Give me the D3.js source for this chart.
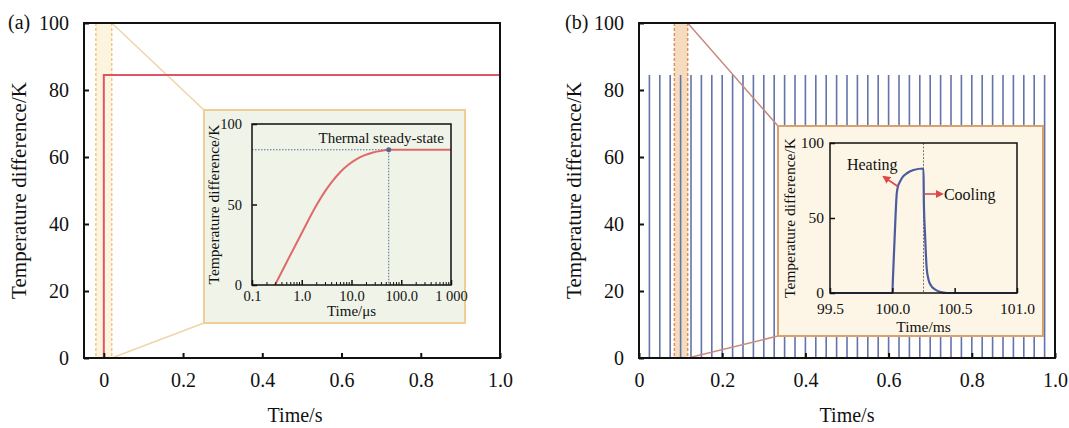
<!DOCTYPE html>
<html lang="en">
<head>
  <meta charset="UTF-8">
  <style>
    body { margin: 0; background: #fff; }
    svg text { font-family: "Liberation Serif", "Times New Roman", serif; fill: #111; }
  </style>
</head>
<body>
  <svg class="chart"></svg>
  <script src="https://cdnjs.cloudflare.com/ajax/libs/d3/7.8.5/d3.min.js"></script>
  <script>
    // ---- data ----
    // (a) single 1 s heating step
    const timeA = [0, 0, 1.0]
    const tempA = [0, 84.5, 84.5]
    const bandA = [-0.02, 0.02]
    // (a) inset, log time in microseconds
    const insetTimeA = [0.29, 0.5, 1, 2, 3, 4, 5.9, 8.5, 12.7, 18, 27, 40, 56, 100, 1000]
    const insetTempA = [0, 14.3, 32.3, 49.8, 58.6, 63.9, 70, 74.5, 78.2, 80.5, 82.3, 83.4, 84, 84, 84]
    const steadyPoint = [56, 84]
    const logTicks = [0.1, 1, 10, 100, 1000]
    const logTickLabels = ['0.1', '1.0', '10.0', '100.0', '1 000']

    // (b) pulse train, one pulse every 25 ms
    const pulseTimes = [0.025, 0.05, 0.075, 0.1, 0.125, 0.15, 0.175, 0.2, 0.225, 0.25,
      0.275, 0.3, 0.325, 0.35, 0.375, 0.4, 0.425, 0.45, 0.475, 0.5,
      0.525, 0.55, 0.575, 0.6, 0.625, 0.65, 0.675, 0.7, 0.725, 0.75,
      0.775, 0.8, 0.825, 0.85, 0.875, 0.9, 0.925, 0.95, 0.975]
    const pulsePeak = 84.5
    const bandB = [0.085, 0.117]
    // (b) inset, time in milliseconds
    const insetTimeB = [99.5, 100.0, 100.005, 100.02, 100.035, 100.045, 100.06, 100.08, 100.12, 100.17, 100.25,
      100.253, 100.262, 100.275, 100.29, 100.31, 100.34, 100.38, 100.44, 101.0]
    const insetTempB = [0, 0, 10, 40, 66, 71, 74, 77, 80, 82, 83,
      60, 40, 17, 9, 5, 2.5, 0.8, 0, 0]
    const switchTime = 100.25

    const mainXTicks = [0, 0.2, 0.4, 0.6, 0.8, 1.0]
    const mainXLabels = ['0', '0.2', '0.4', '0.6', '0.8', '1.0']
    const mainYTicks = [0, 20, 40, 60, 80, 100]
    const insetYTicks = [0, 50, 100]
    const insetXTicksB = [99.5, 100.0, 100.5, 101.0]
    const insetXLabelsB = ['99.5', '100.0', '100.5', '101.0']

    const W = 1069, H = 428
    const svg = d3.select('.chart').attr('width', W).attr('height', H)
    svg.append('rect').attr('width', W).attr('height', H).attr('fill', '#fff')

    function frame(g, x0, y0, x1, y1, w) {
      g.append('rect').attr('x', x0).attr('y', y0)
        .attr('width', x1 - x0).attr('height', y1 - y0)
        .attr('fill', 'none').attr('stroke', '#111').attr('stroke-width', w)
    }

    function axes(g, x, y, o) {
      const [x0, x1] = x.range(), [y1, y0] = y.range()
      const ax = g.append('g').attr('transform', `translate(0,${y1})`)
        .call(d3.axisBottom(x).tickValues(o.xTicks).tickFormat((d, i) => o.xLabels[i])
          .tickSize(-o.tick).tickPadding(o.xPad))
      const ay = g.append('g').attr('transform', `translate(${x0},0)`)
        .call(d3.axisLeft(y).tickValues(o.yTicks).tickSize(-o.tick).tickPadding(o.yPad))
      for (const a of [ax, ay]) {
        a.select('.domain').remove()
        a.selectAll('line').attr('stroke', '#111').attr('stroke-width', o.sw)
        a.selectAll('text').style('font-size', o.font + 'px').attr('fill', '#111')
      }
      frame(g, x0, y0, x1, y1, o.sw)
    }

    // ================= panel (a) =================
    const ga = svg.append('g')
    const xa = d3.scaleLinear().domain([-0.05, 1.0]).range([84, 500])
    const ya = d3.scaleLinear().domain([0, 100]).range([358, 23])

    const insetBoxA = { x0: 204, y0: 110, x1: 465, y1: 323 }

    ga.append('rect').attr('x', xa(bandA[0])).attr('y', ya(100))
      .attr('width', xa(bandA[1]) - xa(bandA[0])).attr('height', ya(0) - ya(100))
      .attr('fill', '#fdf4e0')
    for (const b of bandA) {
      ga.append('line').attr('x1', xa(b)).attr('x2', xa(b)).attr('y1', ya(100)).attr('y2', ya(0))
        .attr('stroke', '#f0c880').attr('stroke-width', 1.5).attr('stroke-dasharray', '3,2')
    }
    ga.append('path')
      .attr('d', d3.line()([[xa(bandA[1]), ya(100)], [insetBoxA.x0, insetBoxA.y0]]) +
        d3.line()([[xa(bandA[1]), ya(0)], [insetBoxA.x0, insetBoxA.y1]]))
      .attr('stroke', '#edd6a8').attr('stroke-width', 1.5).attr('fill', 'none')

    ga.append('path').datum(timeA.map((t, i) => [t, tempA[i]]))
      .attr('d', d3.line().x(d => xa(d[0])).y(d => ya(d[1])))
      .attr('fill', 'none').attr('stroke', '#e05565').attr('stroke-width', 2)

    axes(ga, xa, ya, { xTicks: mainXTicks, xLabels: mainXLabels, yTicks: mainYTicks,
      tick: 5, xPad: 15, yPad: 15, font: 20, sw: 2 })

    // inset (a)
    ga.append('rect').attr('x', insetBoxA.x0).attr('y', insetBoxA.y0)
      .attr('width', insetBoxA.x1 - insetBoxA.x0).attr('height', insetBoxA.y1 - insetBoxA.y0)
      .attr('fill', '#eff3e8').attr('stroke', '#f0cf94').attr('stroke-width', 2)

    const xia = d3.scaleLog().domain([0.1, 1000]).range([252, 451])
    const yia = d3.scaleLinear().domain([0, 100]).range([285, 124])

    ga.append('path')
      .attr('d', d3.line()([[xia(0.1), yia(steadyPoint[1])], [xia(steadyPoint[0]), yia(steadyPoint[1])]]) +
        d3.line()([[xia(steadyPoint[0]), yia(steadyPoint[1])], [xia(steadyPoint[0]), yia(0)]]))
      .attr('stroke', '#556f96').attr('stroke-width', 1).attr('stroke-dasharray', '1.5,1.5').attr('fill', 'none')

    ga.append('path').datum(insetTimeA.map((t, i) => [t, insetTempA[i]]))
      .attr('d', d3.line().x(d => xia(d[0])).y(d => yia(d[1])).curve(d3.curveMonotoneX))
      .attr('fill', 'none').attr('stroke', '#e06a6a').attr('stroke-width', 2)

    ga.append('circle').attr('cx', xia(steadyPoint[0])).attr('cy', yia(steadyPoint[1]))
      .attr('r', 2.5).attr('fill', '#4f6a94')

    // minor log ticks
    const minor = []
    for (const dec of [0.1, 1, 10, 100]) for (let k = 2; k < 10; k++) minor.push(dec * k)
    ga.append('g').selectAll('line').data(minor).join('line')
      .attr('x1', d => xia(d)).attr('x2', d => xia(d))
      .attr('y1', yia(0)).attr('y2', yia(0) - 3)
      .attr('stroke', '#111').attr('stroke-width', 1)

    axes(ga, xia, yia, { xTicks: logTicks, xLabels: logTickLabels, yTicks: insetYTicks,
      tick: 5, xPad: 6, yPad: 10, font: 14.5, sw: 1.5 })

    ga.append('text').attr('x', xia(720)).attr('y', yia(88))
      .attr('text-anchor', 'end').style('font-size', '15px').text('Thermal steady-state')
    ga.append('text').attr('x', (252 + 451) / 2).attr('y', 316)
      .attr('text-anchor', 'middle').style('font-size', '15px').text('Time/μs')
    ga.append('text').attr('transform', `translate(219,${(124 + 285) / 2}) rotate(-90)`)
      .attr('text-anchor', 'middle').style('font-size', '15.5px').text('Temperature difference/K')

    ga.append('text').attr('x', 8).attr('y', ya(100)).attr('dy', '0.32em')
      .style('font-size', '20px').text('(a)')
    ga.append('text').attr('transform', `translate(26,${(23 + 358) / 2}) rotate(-90)`)
      .attr('text-anchor', 'middle').style('font-size', '21px').text('Temperature difference/K')
    ga.append('text').attr('x', (84 + 500) / 2 + 3).attr('y', 422)
      .attr('text-anchor', 'middle').style('font-size', '20px').text('Time/s')

    // ================= panel (b) =================
    const gb = svg.append('g')
    const xb = d3.scaleLinear().domain([0, 1.0]).range([639, 1055])
    const yb = d3.scaleLinear().domain([0, 100]).range([358, 23])
    const insetBoxB = { x0: 778, y0: 126, x1: 1043, y1: 336 }

    gb.append('rect').attr('x', xb(bandB[0])).attr('y', yb(100))
      .attr('width', xb(bandB[1]) - xb(bandB[0])).attr('height', yb(0) - yb(100))
      .attr('fill', '#f6dcbf')

    gb.append('g').selectAll('line').data(pulseTimes).join('line')
      .attr('x1', d => xb(d)).attr('x2', d => xb(d))
      .attr('y1', yb(0)).attr('y2', yb(pulsePeak))
      .attr('stroke', '#6274aa').attr('stroke-width', 1.6)

    for (const b of bandB) {
      gb.append('line').attr('x1', xb(b)).attr('x2', xb(b)).attr('y1', yb(100)).attr('y2', yb(0))
        .attr('stroke', '#d9925e').attr('stroke-width', 1.5).attr('stroke-dasharray', '3,2')
    }
    gb.append('path')
      .attr('d', d3.line()([[xb(bandB[1]), yb(100)], [insetBoxB.x0, insetBoxB.y0]]) +
        d3.line()([[xb(bandB[1]), yb(0)], [insetBoxB.x0, insetBoxB.y1]]))
      .attr('stroke', '#c98a80').attr('stroke-width', 1.5).attr('fill', 'none')

    axes(gb, xb, yb, { xTicks: mainXTicks, xLabels: mainXLabels, yTicks: mainYTicks,
      tick: 5, xPad: 15, yPad: 15, font: 20, sw: 2 })

    // inset (b)
    gb.append('rect').attr('x', insetBoxB.x0).attr('y', insetBoxB.y0)
      .attr('width', insetBoxB.x1 - insetBoxB.x0).attr('height', insetBoxB.y1 - insetBoxB.y0)
      .attr('fill', '#fdf6e6').attr('stroke', '#d9a26c').attr('stroke-width', 2)

    const xib = d3.scaleLinear().domain([99.5, 101.0]).range([830, 1017])
    const yib = d3.scaleLinear().domain([0, 100]).range([293, 143])

    gb.append('line').attr('x1', xib(switchTime)).attr('x2', xib(switchTime))
      .attr('y1', yib(100)).attr('y2', yib(0))
      .attr('stroke', '#777').attr('stroke-width', 1).attr('stroke-dasharray', '2,1.5')

    gb.append('path').datum(insetTimeB.map((t, i) => [t, insetTempB[i]]))
      .attr('d', d3.line().x(d => xib(d[0])).y(d => yib(d[1])).curve(d3.curveMonotoneX))
      .attr('fill', 'none').attr('stroke', '#4b5c9e').attr('stroke-width', 2.2)

    axes(gb, xib, yib, { xTicks: insetXTicksB, xLabels: insetXLabelsB, yTicks: insetYTicks,
      tick: 5, xPad: 10, yPad: 6, font: 15.5, sw: 1.5 })

    // arrows
    const defs = svg.append('defs')
    defs.append('marker').attr('id', 'arr').attr('viewBox', '0 0 10 10')
      .attr('refX', 8).attr('refY', 5).attr('markerWidth', 5).attr('markerHeight', 5)
      .attr('orient', 'auto')
      .append('path').attr('d', 'M0,0 L10,5 L0,10 z').attr('fill', '#e04848')
    const arrows = [
      [[100.045, 71], [99.93, 77.5]],
      [[100.262, 66], [100.4, 66]]
    ]
    gb.append('g').selectAll('line').data(arrows).join('line')
      .attr('x1', d => xib(d[0][0])).attr('y1', d => yib(d[0][1]))
      .attr('x2', d => xib(d[1][0])).attr('y2', d => yib(d[1][1]))
      .attr('stroke', '#e04848').attr('stroke-width', 1.6).attr('marker-end', 'url(#arr)')

    gb.append('text').attr('x', xib(99.636)).attr('y', yib(82))
      .style('font-size', '16px').text('Heating')
    gb.append('text').attr('x', xib(100.414)).attr('y', yib(62))
      .style('font-size', '16px').text('Cooling')
    gb.append('text').attr('x', (830 + 1017) / 2).attr('y', 332)
      .attr('text-anchor', 'middle').style('font-size', '15.5px').text('Time/ms')
    gb.append('text').attr('transform', `translate(795,${(143 + 293) / 2}) rotate(-90)`)
      .attr('text-anchor', 'middle').style('font-size', '15.5px').text('Temperature difference/K')

    gb.append('text').attr('x', 565).attr('y', yb(100)).attr('dy', '0.32em')
      .style('font-size', '20px').text('(b)')
    gb.append('text').attr('transform', `translate(581,${(23 + 358) / 2}) rotate(-90)`)
      .attr('text-anchor', 'middle').style('font-size', '21px').text('Temperature difference/K')
    gb.append('text').attr('x', (639 + 1055) / 2).attr('y', 422)
      .attr('text-anchor', 'middle').style('font-size', '20px').text('Time/s')
  </script>
</body>
</html>
